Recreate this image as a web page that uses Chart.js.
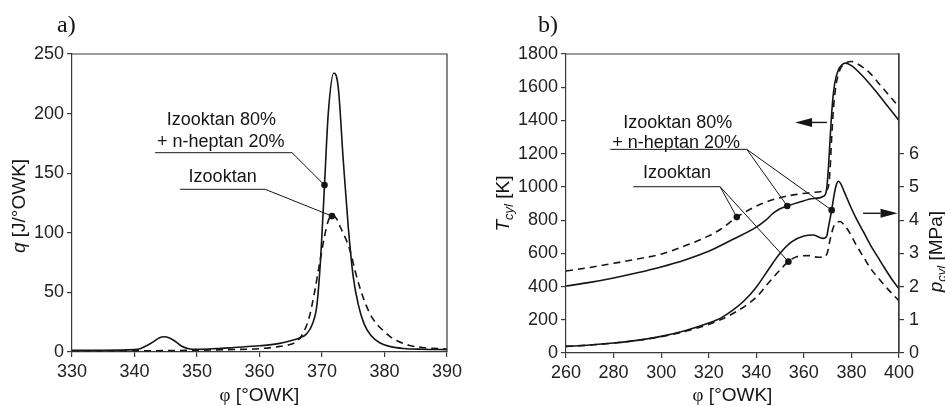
<!DOCTYPE html>
<html>
<head>
<meta charset="utf-8">
<script src="https://cdn.jsdelivr.net/npm/chart.js"></script>
<style>
  body { margin: 0; background: #fff; }
  #wrap { position: relative; width: 945px; height: 406px; }
  .box { position: absolute; top: 0; height: 406px; }
</style>
</head>
<body>
<div id="wrap">
  <div class="box" style="left:0;width:472px"><canvas id="chartA"></canvas></div>
  <div class="box" style="left:472px;width:473px"><canvas id="chartB"></canvas></div>
</div>
<script>
// ---- panel a) heat release q [J/°OWK] ----
const phiA_mix = [330, 335, 340, 341, 342, 343, 344, 344.7, 345.5, 346.5, 347.5, 348.5, 350, 353, 356, 360, 363, 365, 366.5, 367.5, 368.5, 369.2, 369.8, 370.4, 371, 371.9, 372.6, 373.4, 374.2, 375, 375.8, 376.7, 377.8, 379.3, 381, 383, 386, 390];
const qA_mix   = [1.5, 1.5, 2, 3, 5.5, 8.5, 12, 12.8, 12, 9, 5, 3, 2.2, 2.8, 3.8, 5.2, 7, 9.5, 12, 15, 24, 40, 80, 140, 200, 234, 222, 161, 105, 63, 40, 24, 14, 7.5, 4.5, 3, 2.3, 2];
const phiA_iso = [330, 340, 350, 355, 360, 363, 365, 366, 367, 368, 368.8, 369.7, 370.4, 371, 371.6, 372.3, 373, 373.8, 374.5, 375.3, 376, 377, 378, 379, 380, 381, 382, 384, 386, 390];
const qA_iso   = [1, 1, 1.5, 2, 2.8, 4.5, 6.5, 9, 16, 30, 50, 77, 97, 110, 115, 112, 104, 95, 85, 68, 55, 40, 29, 22, 17, 12.5, 9.5, 5.5, 3.8, 2.5];
const markA_phi = [370.4, 371.6];
const markA_q   = [140, 114];
const ticksA_x = [330, 340, 350, 360, 370, 380, 390];
const ticksA_y = [0, 50, 100, 150, 200, 250];

// ---- panel b) temperature T_cyl [K] and pressure p_cyl [MPa] ----
const phiT_mix = [260, 270, 280, 290, 300, 310, 320, 330, 340, 344, 347, 350, 353, 358, 364, 368.5, 369.6, 370.4, 371, 372, 373, 374.5, 376, 377.5, 380, 385, 390, 395, 400];
const T_mix    = [403, 425, 452, 483, 518, 560, 612, 683, 758, 800, 840, 868, 885, 908, 930, 945, 990, 1130, 1282, 1500, 1625, 1704, 1735, 1745, 1730, 1663, 1580, 1490, 1400];
const phiT_iso = [260, 270, 280, 290, 300, 310, 320, 325, 331.8, 337, 343, 350, 357, 364, 369, 370.3, 371, 371.7, 372.5, 373.5, 375, 377, 380, 384, 388, 392, 396, 400];
const T_iso    = [494, 515, 540, 566, 595, 645, 705, 745, 818, 862, 903, 935, 955, 967, 978, 1000, 1100, 1300, 1480, 1610, 1700, 1740, 1755, 1728, 1682, 1615, 1548, 1482];
const phiP_mix = [260, 270, 280, 290, 300, 310, 320, 325, 330, 335, 340, 345, 350, 355, 360, 364, 368, 369.5, 370.5, 371.7, 372.7, 373.6, 374.5, 375.5, 377, 380, 382, 385, 388, 391, 394, 397, 400];
const p_mix    = [0.2, 0.24, 0.3, 0.38, 0.5, 0.67, 0.9, 1.05, 1.28, 1.58, 1.98, 2.5, 3.0, 3.35, 3.52, 3.55, 3.45, 3.5, 3.85, 4.3, 4.75, 5.05, 5.17, 5.1, 4.85, 4.35, 4.05, 3.65, 3.25, 2.9, 2.55, 2.22, 1.93];
const phiP_iso = [260, 270, 280, 290, 300, 310, 320, 330, 340, 345, 350, 353.5, 357, 362, 366, 368.5, 370, 371, 372.5, 374, 375.2, 377, 379.4, 382, 385, 388, 392, 396, 400];
const p_iso    = [0.2, 0.24, 0.3, 0.38, 0.49, 0.65, 0.86, 1.18, 1.68, 2.1, 2.5, 2.75, 2.9, 2.93, 2.88, 2.88, 3.05, 3.4, 3.8, 3.93, 3.96, 3.85, 3.6, 3.25, 2.9, 2.55, 2.2, 1.87, 1.57];
const markT_phi = [353, 331.8];
const markT_val = [885, 818];
const markP_phi = [371.7, 353.5];
const markP_val = [4.3, 2.75];
const ticksB_x = [260, 280, 300, 320, 340, 360, 380, 400];
const ticksB_T = [0, 200, 400, 600, 800, 1000, 1200, 1400, 1600, 1800];
const ticksB_p = [0, 1, 2, 3, 4, 5, 6];

const labelMix = ['Izooktan 80%', '+ n-heptan 20%'];
const labelIso = 'Izooktan';

const SANS = '"Liberation Sans", Arial, sans-serif';
const SERIF = '"Liberation Serif", "Times New Roman", serif';
const INK = '#151515';
const AXIS = '#3a3a3a';

function pairs(xs, ys) { return xs.map((x, i) => ({ x: x, y: ys[i] })); }

function curve(xs, ys, dashed, axis) {
  return {
    data: pairs(xs, ys), yAxisID: axis || 'y',
    borderColor: INK, borderWidth: 1.6, borderDash: dashed ? [7, 5] : [],
    pointRadius: 0, cubicInterpolationMode: 'monotone', order: 2
  };
}
function dots(xs, ys, axis) {
  return {
    data: pairs(xs, ys), yAxisID: axis || 'y', showLine: false,
    pointRadius: 3.3, pointBackgroundColor: INK, pointBorderWidth: 0, order: 0
  };
}

function tickStyle(pad) {
  return { color: '#222', font: { family: SANS, size: 18 }, padding: pad || 3, callback: v => String(v) };
}
function gridStyle() {
  return { drawOnChartArea: false, drawTicks: true, tickLength: 5, color: AXIS, lineWidth: 1.2 };
}

function polyline(ctx, pts, w) {
  ctx.beginPath();
  ctx.moveTo(pts[0][0], pts[0][1]);
  for (let i = 1; i < pts.length; i++) ctx.lineTo(pts[i][0], pts[i][1]);
  ctx.lineWidth = w; ctx.strokeStyle = INK; ctx.stroke();
}
function centerText(ctx, txt, x, y, size) {
  ctx.font = size + 'px ' + SANS;
  ctx.fillStyle = INK; ctx.textAlign = 'center'; ctx.textBaseline = 'middle';
  ctx.fillText(txt, x, y);
}
// mixed style text (italic symbol + subscript), drawn on a baseline
function richText(ctx, parts, cx, cy, rot) {
  ctx.save();
  ctx.translate(cx, cy); ctx.rotate(rot);
  ctx.textAlign = 'left'; ctx.textBaseline = 'alphabetic'; ctx.fillStyle = INK;
  let total = 0;
  parts.forEach(p => { ctx.font = p.font; p.w = ctx.measureText(p.t).width; total += p.w; });
  let x = -total / 2;
  parts.forEach(p => { ctx.font = p.font; ctx.fillText(p.t, x, p.dy || 0); x += p.w; });
  ctx.restore();
}
function arrow(ctx, x0, y, x1) {
  const dir = Math.sign(x1 - x0), len = 17, hw = 4.5;
  polyline(ctx, [[x0, y], [x1 - dir * len, y]], 1.4);
  ctx.beginPath();
  ctx.moveTo(x1, y); ctx.lineTo(x1 - dir * len, y - hw); ctx.lineTo(x1 - dir * len, y + hw);
  ctx.closePath(); ctx.fillStyle = INK; ctx.fill();
}
function frame(ctx, a) {
  ctx.beginPath();
  ctx.moveTo(a.left, a.top); ctx.lineTo(a.right, a.top); ctx.lineTo(a.right, a.bottom);
  ctx.lineWidth = 1.2; ctx.strokeStyle = AXIS; ctx.stroke();
}

const notesA = {
  id: 'notesA',
  afterDatasetsDraw(chart) {
    const ctx = chart.ctx, a = chart.chartArea;
    const X = v => chart.scales.x.getPixelForValue(v), Y = v => chart.scales.y.getPixelForValue(v);
    ctx.save();
    frame(ctx, a);
    centerText(ctx, labelMix[0], X(353.9), Y(194.6), 18);
    centerText(ctx, labelMix[1], X(353.8), Y(176), 18);
    polyline(ctx, [[X(343.3), Y(167.2)], [X(365.2), Y(167.2)], [X(markA_phi[0]), Y(markA_q[0])]], 1);
    centerText(ctx, labelIso, X(354.1), Y(147), 18);
    polyline(ctx, [[X(347.3), Y(136.5)], [X(360.9), Y(136.5)], [X(markA_phi[1]), Y(markA_q[1])]], 1);
    // panel letter
    ctx.font = '24px ' + SERIF; ctx.fillStyle = INK; ctx.textAlign = 'left'; ctx.textBaseline = 'alphabetic';
    ctx.fillText('a)', 57, 32);
    // axis titles
    richText(ctx, [{ t: 'q', font: 'italic 19px ' + SANS }, { t: ' [J/°OWK]', font: '19px ' + SANS }],
      a.left - 47, (a.top + a.bottom) / 2 + 3, -Math.PI / 2);
    richText(ctx, [{ t: 'φ', font: '19px ' + SERIF }, { t: ' [°OWK]', font: '19px ' + SANS }],
      (a.left + a.right) / 2, 401, 0);
    ctx.restore();
  }
};

const notesB = {
  id: 'notesB',
  afterDatasetsDraw(chart) {
    const ctx = chart.ctx, a = chart.chartArea;
    const X = v => chart.scales.x.getPixelForValue(v), Y = v => chart.scales.y.getPixelForValue(v);
    const P = v => chart.scales.y1.getPixelForValue(v);
    ctx.save();
    frame(ctx, a);
    centerText(ctx, labelMix[0], X(307), Y(1385), 18);
    centerText(ctx, labelMix[1], X(306.3), Y(1264), 18);
    polyline(ctx, [[X(278.6), Y(1226)], [X(336), Y(1226)], [X(markT_phi[0]), Y(markT_val[0])]], 1);
    polyline(ctx, [[X(336), Y(1226)], [X(markP_phi[0]), P(markP_val[0])]], 1);
    centerText(ctx, labelIso, X(306.7), Y(1081), 18);
    polyline(ctx, [[X(288.3), Y(1001)], [X(324.8), Y(1001)], [X(markT_phi[1]), Y(markT_val[1])]], 1);
    polyline(ctx, [[X(324.8), Y(1001)], [X(markP_phi[1]), P(markP_val[1])]], 1);
    // axis indicators
    arrow(ctx, X(369.7), Y(1388), X(356.3));
    arrow(ctx, X(384.9), Y(841), X(399.4));
    // panel letter
    ctx.font = '24px ' + SERIF; ctx.fillStyle = INK; ctx.textAlign = 'left'; ctx.textBaseline = 'alphabetic';
    ctx.fillText('b)', 66, 32);
    // axis titles
    richText(ctx, [{ t: 'T', font: 'italic 19px ' + SANS }, { t: 'cyl', font: 'italic 13px ' + SANS, dy: 4 },
      { t: ' [K]', font: '19px ' + SANS }], a.left - 57, (a.top + a.bottom) / 2, -Math.PI / 2);
    richText(ctx, [{ t: 'p', font: 'italic 19px ' + SANS }, { t: 'cyl', font: 'italic 13px ' + SANS, dy: 4 },
      { t: ' [MPa]', font: '19px ' + SANS }], a.right + 43, P(3.05), -Math.PI / 2);
    richText(ctx, [{ t: 'φ', font: '19px ' + SERIF }, { t: ' [°OWK]', font: '19px ' + SANS }],
      (a.left + a.right) / 2, 401, 0);
    ctx.restore();
  }
};

new Chart(document.getElementById('chartA'), {
  type: 'line',
  data: {
    datasets: [
      curve(phiA_mix, qA_mix, false),
      curve(phiA_iso, qA_iso, true),
      dots(markA_phi, markA_q)
    ]
  },
  options: {
    responsive: true, maintainAspectRatio: false, animation: false,
    layout: { padding: { left: 0, right: 25, top: 54, bottom: 0 } },
    plugins: { legend: { display: false }, tooltip: { enabled: false } },
    scales: {
      x: {
        type: 'linear', min: ticksA_x[0], max: ticksA_x[ticksA_x.length - 1],
        afterBuildTicks: s => { s.ticks = ticksA_x.map(v => ({ value: v })); },
        ticks: tickStyle(4), grid: gridStyle(), border: { color: AXIS, width: 1.2 },
        afterFit: s => { s.height = 54; }
      },
      y: {
        min: ticksA_y[0], max: ticksA_y[ticksA_y.length - 1],
        afterBuildTicks: s => { s.ticks = ticksA_y.map(v => ({ value: v })); },
        ticks: tickStyle(3), grid: gridStyle(), border: { color: AXIS, width: 1.2 },
        afterFit: s => { s.width = 72; }
      }
    }
  },
  plugins: [notesA]
});

new Chart(document.getElementById('chartB'), {
  type: 'line',
  data: {
    datasets: [
      curve(phiT_mix, T_mix, false, 'y'),
      curve(phiT_iso, T_iso, true, 'y'),
      curve(phiP_mix, p_mix, false, 'y1'),
      curve(phiP_iso, p_iso, true, 'y1'),
      dots(markT_phi, markT_val, 'y'),
      dots(markP_phi, markP_val, 'y1')
    ]
  },
  options: {
    responsive: true, maintainAspectRatio: false, animation: false,
    layout: { padding: { left: 0, right: 0, top: 54, bottom: 0 } },
    plugins: { legend: { display: false }, tooltip: { enabled: false } },
    scales: {
      x: {
        type: 'linear', min: ticksB_x[0], max: ticksB_x[ticksB_x.length - 1],
        afterBuildTicks: s => { s.ticks = ticksB_x.map(v => ({ value: v })); },
        ticks: tickStyle(4), grid: gridStyle(), border: { color: AXIS, width: 1.2 },
        afterFit: s => { s.height = 53; }
      },
      y: {
        position: 'left', min: ticksB_T[0], max: ticksB_T[ticksB_T.length - 1],
        afterBuildTicks: s => { s.ticks = ticksB_T.map(v => ({ value: v })); },
        ticks: tickStyle(3), grid: gridStyle(), border: { color: AXIS, width: 1.2 },
        afterFit: s => { s.width = 94; }
      },
      y1: {
        position: 'right', min: 0, max: 9,
        afterBuildTicks: s => { s.ticks = ticksB_p.map(v => ({ value: v })); },
        ticks: tickStyle(5), grid: gridStyle(), border: { color: AXIS, width: 1.2 },
        afterFit: s => { s.width = 46; }
      }
    }
  },
  plugins: [notesB]
});
</script>
</body>
</html>
